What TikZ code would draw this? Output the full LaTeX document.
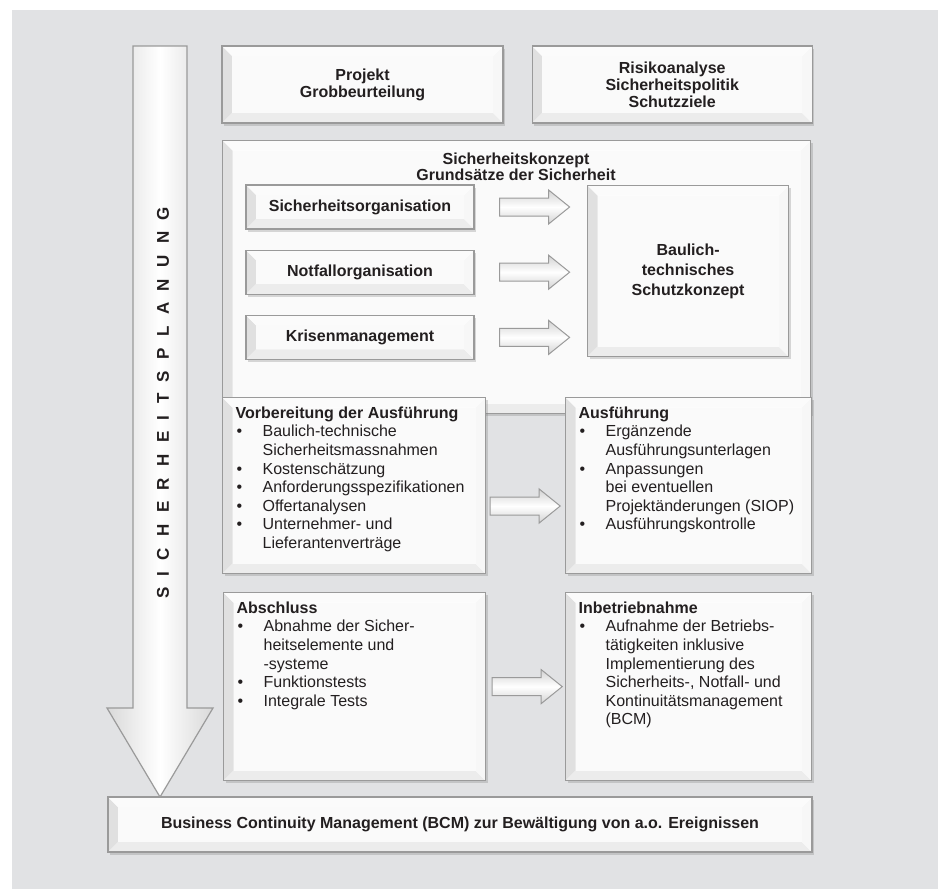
\documentclass[tikz,border=0pt]{standalone}
\usepackage{fontspec}
\setmainfont{Liberation Sans}
\usetikzlibrary{shadows, calc, positioning}

\definecolor{bggrey}{HTML}{E1E2E4}
\definecolor{edgegrey}{HTML}{9A9A9A}
\definecolor{txtgrey}{HTML}{231F20}

\newcommand{\bpt}{\makebox[27pt][l]{\hspace{1pt}\textbullet}}
\newcommand{\bind}{\hspace*{27pt}}

\begin{document}
\begin{tikzpicture}[x=1pt, y=-1pt,
    bevelbox/.style={draw=edgegrey, line width=1.2pt, fill=white, text=txtgrey,
      drop shadow={shadow xshift=2pt, shadow yshift=-2.5pt, opacity=.3},
      path picture={
        \coordinate (bsw) at (path picture bounding box.south west);
        \coordinate (bnw) at (path picture bounding box.north west);
        \coordinate (bse) at (path picture bounding box.south east);
        \coordinate (bne) at (path picture bounding box.north east);
        \fill[gray!24] (bsw) -- (bnw) -- ($(bnw)+(10pt,-10pt)$) -- ($(bsw)+(10pt,10pt)$) -- cycle;
        \fill[gray!15] (bsw) -- (bse) -- ($(bse)+(-10pt,10pt)$) -- ($(bsw)+(10pt,10pt)$) -- cycle;
        \fill[gray!6] (bse) -- (bne) -- ($(bne)+(-10pt,-10pt)$) -- ($(bse)+(-10pt,10pt)$) -- cycle;
        \fill[gray!3] (bnw) -- (bne) -- ($(bne)+(-10pt,-10pt)$) -- ($(bnw)+(10pt,-10pt)$) -- cycle;
        \fill[gray!4] ($(bsw)+(10pt,10pt)$) rectangle ($(bne)+(-10pt,-10pt)$);
      }},
    tagbox/.style={bevelbox, font=\bfseries\fontsize{16}{17}\selectfont, align=center, inner sep=0pt},
    listbox/.style={bevelbox, font=\fontsize{16}{18.6}\selectfont, inner xsep=13pt, inner ysep=9pt, anchor=north west},
    bigarrow/.style={draw=edgegrey, line width=1.2pt, line join=miter,
      left color=gray!30, right color=gray!30, middle color=white},
    blockarr/.pic={
      \draw[draw=edgegrey, line width=1pt, top color=gray!35, bottom color=gray!35, middle color=white]
        (0,-9) -- (49,-9) -- (49,-17) -- (70,0) -- (49,17) -- (49,9) -- (0,9) -- cycle;
    }
  ]
  \fill[bggrey] (12,10) rectangle (938,889);
  \useasboundingbox (0,0) rectangle (941,889);

  % planning arrow down to BCM
  \coordinate (ptop) at (160,46);
  \coordinate (ptip) at (160,797);
  \draw[bigarrow] ($(ptop)+(-27,0)$) -- ($(ptop)+(27,0)$) -- ($(ptip)+(27,-89)$)
    -- ($(ptip)+(53,-89)$) -- (ptip) -- ($(ptip)+(-53,-89)$) -- ($(ptip)+(-27,-89)$) -- cycle;
  \node[text=txtgrey, rotate=90,
    font=\bfseries\fontsize{17}{17}\selectfont\addfontfeature{LetterSpace=67}] (plan) at (163,403) {SICHERHEITSPLANUNG};

  % top row
  \node[tagbox, minimum width=281pt, minimum height=77pt] (proj) at (362.5,84.5) {Projekt\\Grobbeurteilung};
  \node[tagbox, minimum width=280pt, minimum height=77pt, right=28pt of proj] (risk) {Risikoanalyse\\Sicherheitspolitik\\Schutzziele};

  % Sicherheitskonzept
  \node[bevelbox, minimum width=588pt, minimum height=273pt, anchor=north west] (konz) at (222,140) {};
  \node[text=txtgrey, font=\bfseries\fontsize{16}{16.5}\selectfont, align=center] (konzt) at (516,167)
    {Sicherheitskonzept\\Grundsätze der Sicherheit};
  \node[tagbox, minimum width=228pt, minimum height=44pt] (sorg) at (360,207) {Sicherheitsorganisation};
  \node[tagbox, minimum width=228pt, minimum height=44pt, below=20pt of sorg] (norg) {Notfallorganisation};
  \node[tagbox, minimum width=228pt, minimum height=44pt, below=20pt of norg] (kris) {Krisenmanagement};
  \node[tagbox, font=\bfseries\fontsize{16}{20}\selectfont, minimum width=201pt, minimum height=171pt,
    anchor=north west] (baul) at (587,185) {Baulich-\\technisches\\Schutzkonzept};
  \foreach \n in {sorg, norg, kris}
    \pic at ($(\n.east)+(25,0)$) {blockarr};

  % Ausfuehrung
  \node[listbox] (vorb) at (222,397) {\parbox[t][158pt][t]{237pt}{\raggedright
    \textbf{Vorbereitung der Ausführung}\\
    \bpt Baulich-technische\\
    \bind Sicherheitsmassnahmen\\
    \bpt Kostenschätzung\\
    \bpt Anforderungsspezifikationen\\
    \bpt Offertanalysen\\
    \bpt Unternehmer- und\\
    \bind Lieferantenverträge}};
  \node[listbox] (ausf) at (565,397) {\parbox[t][158pt][t]{220pt}{\raggedright
    \textbf{Ausführung}\\
    \bpt Ergänzende\\
    \bind Ausführungsunterlagen\\
    \bpt Anpassungen\\
    \bind bei eventuellen\\
    \bind Projektänderungen (SIOP)\\
    \bpt Ausführungskontrolle}};
  \pic at ($(vorb.north east)+(4,109)$) {blockarr};

  % Abschluss / Inbetriebnahme
  \node[listbox] (absc) at (223,592) {\parbox[t][170pt][t]{236pt}{\raggedright
    \textbf{Abschluss}\\
    \bpt Abnahme der Sicher-\\
    \bind heitselemente und\\
    \bind -systeme\\
    \bpt Funktionstests\\
    \bpt Integrale Tests}};
  \node[listbox] (inbe) at (565,592) {\parbox[t][170pt][t]{220pt}{\raggedright
    \textbf{Inbetriebnahme}\\
    \bpt Aufnahme der Betriebs-\\
    \bind tätigkeiten inklusive\\
    \bind Implementierung des\\
    \bind Sicherheits-, Notfall- und\\
    \bind Kontinuitätsmanagement\\
    \bind (BCM)}};
  \pic at ($(absc.east)+(6,0)$) {blockarr};

  % BCM
  \node[tagbox, minimum width=704pt, minimum height=55pt] (bcm) at (460,824.5)
    {Business Continuity Management (BCM) zur Bewältigung von a.o. Ereignissen};
\end{tikzpicture}
\end{document}
